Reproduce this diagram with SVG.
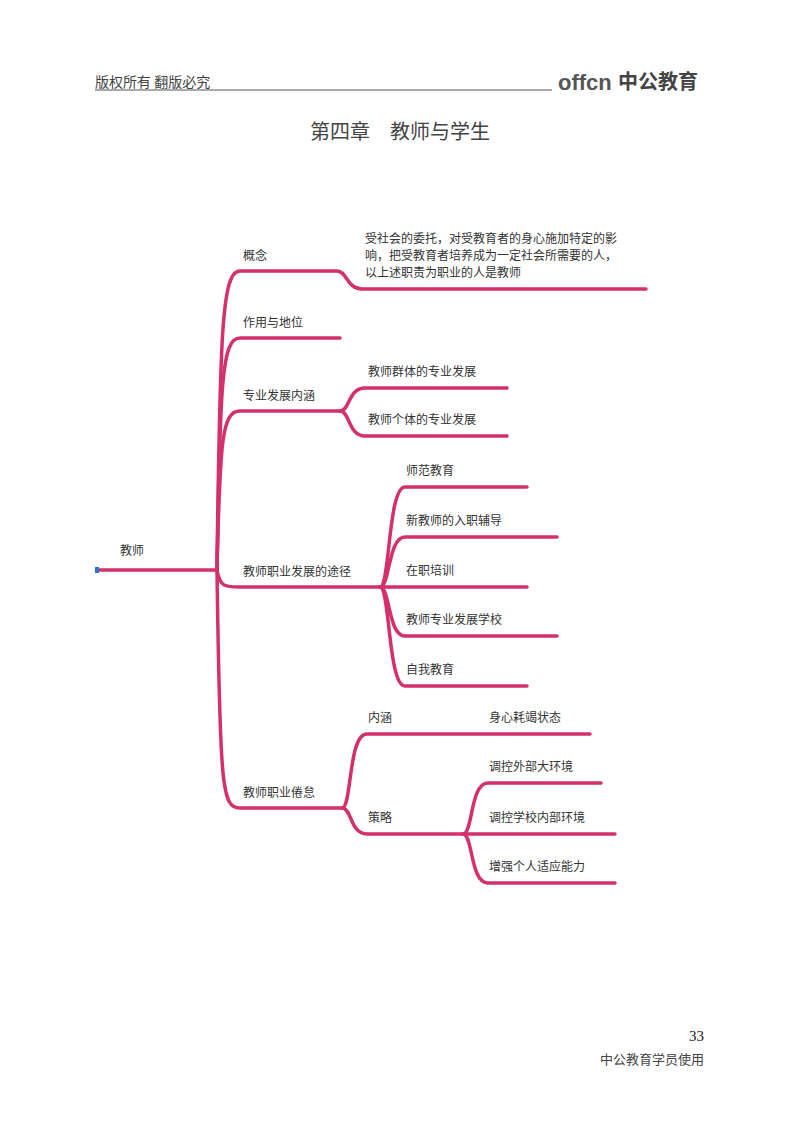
<svg xmlns="http://www.w3.org/2000/svg" width="800" height="1124" viewBox="0 0 800 1124">
<style>
.t{font-family:"Noto Sans CJK SC","Noto Sans",sans-serif;font-size:12px;fill:#333}
.h{font-family:"Noto Sans CJK SC",sans-serif;fill:#444}
.l{fill:none;stroke:#d4316c;stroke-width:3.5;stroke-linecap:round}
</style>
<rect width="800" height="1124" fill="#fff"/>
<g id="header">
<text class="h" x="95" y="87" font-size="14">版权所有  翻版必究</text>
<line x1="95" y1="90" x2="552" y2="90" stroke="#555" stroke-width="1"/>
<text x="558" y="90" font-family="Liberation Sans,sans-serif" font-weight="bold" font-size="22" fill="#555">offcn</text>
<text class="h" x="618" y="89" font-size="20" font-weight="bold" fill="#555">中公教育</text>
<text class="h" x="400" y="139" font-size="20" text-anchor="middle" fill="#111">第四章　教师与学生</text>
</g>
<g id="connectors">
<path class="l" d="M97 570 H217"/>
<path class="l" d="M217 570 C220 330 222 271 240 271 H337 C347 271 347 289 362 289 H646"/>
<path class="l" d="M217 570 C220 380 222 338 240 338 H340"/>
<path class="l" d="M217 570 C220 440 222 411 240 411 H340"/>
<path class="l" d="M340 411 C350 411 348 388 365 388 H507"/>
<path class="l" d="M340 411 C350 411 348 436 365 436 H507"/>
<path class="l" d="M217 570 C220 587 225 587 240 587 H380"/>
<path class="l" d="M380 587 C390 587 388 487 405 487 H527"/>
<path class="l" d="M380 587 C390 587 388 537 405 537 H557"/>
<path class="l" d="M380 587 H527"/>
<path class="l" d="M380 587 C390 587 388 636 405 636 H557"/>
<path class="l" d="M380 587 C390 587 388 686 405 686 H527"/>
<path class="l" d="M217 570 C220 790 222 808 240 808 H342"/>
<path class="l" d="M342 808 C352 808 348 734 367 734 H590"/>
<path class="l" d="M342 808 C352 808 350 834 367 834 H463"/>
<path class="l" d="M463 834 C473 834 470 783 488 783 H601"/>
<path class="l" d="M463 834 H615"/>
<path class="l" d="M463 834 C473 834 470 883 488 883 H615"/>
<rect x="95" y="567" width="4" height="6" fill="#1e78d6"/>
</g>
<g id="n-root"><text class="t" x="120" y="555">教师</text></g>
<g id="n1"><text class="t" x="243" y="260">概念</text></g>
<g id="n1a"><text class="t" x="365" y="243">受社会的委托，对受教育者的身心施加特定的影</text><text class="t" x="365" y="260">响，把受教育者培养成为一定社会所需要的人，</text><text class="t" x="365" y="277">以上述职责为职业的人是教师</text></g>
<g id="n2"><text class="t" x="243" y="327">作用与地位</text></g>
<g id="n3"><text class="t" x="243" y="400">专业发展内涵</text></g>
<g id="n3a"><text class="t" x="368" y="376">教师群体的专业发展</text></g>
<g id="n3b"><text class="t" x="368" y="424">教师个体的专业发展</text></g>
<g id="n4"><text class="t" x="243" y="576">教师职业发展的途径</text></g>
<g id="n4a"><text class="t" x="406" y="475">师范教育</text></g>
<g id="n4b"><text class="t" x="406" y="525">新教师的入职辅导</text></g>
<g id="n4c"><text class="t" x="406" y="575">在职培训</text></g>
<g id="n4d"><text class="t" x="406" y="624">教师专业发展学校</text></g>
<g id="n4e"><text class="t" x="406" y="674">自我教育</text></g>
<g id="n5"><text class="t" x="243" y="797">教师职业倦怠</text></g>
<g id="n5a"><text class="t" x="368" y="722">内涵</text></g>
<g id="n5a1"><text class="t" x="489" y="722">身心耗竭状态</text></g>
<g id="n5b"><text class="t" x="368" y="822">策略</text></g>
<g id="n5b1"><text class="t" x="489" y="771">调控外部大环境</text></g>
<g id="n5b2"><text class="t" x="489" y="822">调控学校内部环境</text></g>
<g id="n5b3"><text class="t" x="489" y="871">增强个人适应能力</text></g>
<g id="footer">
<text x="704" y="1041" font-family="Liberation Serif,serif" font-size="15" text-anchor="end" fill="#222">33</text>
<text class="h" x="704" y="1064" font-size="13" text-anchor="end">中公教育学员使用</text>
</g>
</svg>
